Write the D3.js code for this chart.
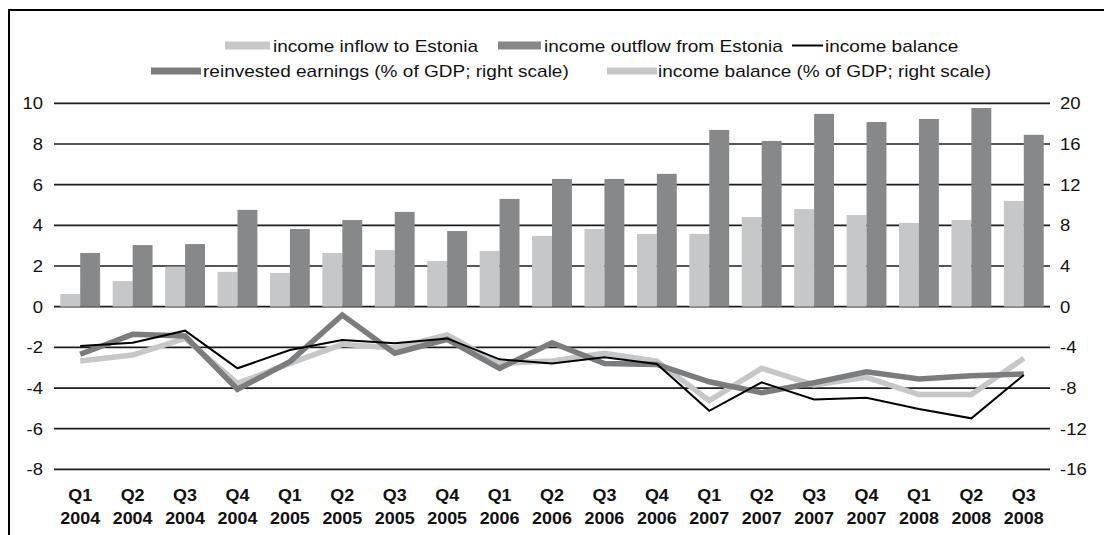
<!DOCTYPE html>
<html>
<head>
<meta charset="utf-8">
<script src="https://cdn.jsdelivr.net/npm/d3@7"></script>
<style>
  html, body { margin: 0; padding: 0; background: #fff; }
  svg { display: block; }
  text { font-family: "Liberation Sans", Arial, Helvetica, sans-serif; fill: #111; }
</style>
</head>
<body>
<svg id="chart" width="1104" height="535"></svg>
<script>
// Quarterly categories
const quarters = ["Q1","Q2","Q3","Q4","Q1","Q2","Q3","Q4","Q1","Q2","Q3","Q4","Q1","Q2","Q3","Q4","Q1","Q2","Q3"];
const years    = ["2004","2004","2004","2004","2005","2005","2005","2005","2006","2006","2006","2006","2007","2007","2007","2007","2008","2008","2008"];

// Left scale (bars and income balance)
const incomeInflow  = [0.62,1.26,1.97,1.71,1.66,2.64,2.79,2.25,2.74,3.48,3.82,3.58,3.58,4.41,4.80,4.51,4.12,4.26,5.20];
const incomeOutflow = [2.64,3.03,3.08,4.76,3.82,4.26,4.66,3.72,5.30,6.28,6.28,6.53,8.69,8.15,9.48,9.08,9.23,9.77,8.45];
const incomeBalance = [-1.93,-1.77,-1.18,-3.03,-2.13,-1.64,-1.80,-1.56,-2.59,-2.79,-2.49,-2.82,-5.12,-3.72,-4.56,-4.48,-5.03,-5.49,-3.36];

// Right scale (% of GDP)
const reinvestedGDP = [-4.68,-2.72,-2.88,-8.12,-5.40,-0.82,-4.58,-3.20,-6.06,-3.54,-5.58,-5.68,-7.38,-8.46,-7.48,-6.40,-7.12,-6.78,-6.62];
const balanceGDP    = [-5.34,-4.76,-3.12,-7.54,-5.58,-3.70,-4.06,-2.78,-5.58,-5.34,-4.58,-5.34,-9.24,-6.06,-7.70,-6.94,-8.64,-8.64,-5.08];

const leftTicks  = [10,8,6,4,2,0,-2,-4,-6,-8];
const rightTicks = [20,16,12,8,4,0,-4,-8,-12,-16];

const legendRow1 = ["income inflow to Estonia","income outflow from Estonia","income balance"];
const legendRow2 = ["reinvested earnings (% of GDP; right scale)","income balance (% of GDP; right scale)"];

const C_LIGHT = "#c6c7c9", C_DARK = "#87888a", C_LINE_DARK = "#7b7c7e";
const SX = 1.12; // horizontal text stretch
const FS = 16.5;
const FS_LEG = 17;

const svg = d3.select("#chart");
const keys = d3.range(quarters.length);

const plot = { left: 54, right: 1050, top: 103.3, bottom: 469.4 };

const x = d3.scaleBand().domain(keys).range([plot.left, plot.right])
  .paddingInner(0.24).paddingOuter(0.12);
const xi = d3.scaleBand().domain(["in","out"]).range([0, x.bandwidth()]);
const yL = d3.scaleLinear().domain([-8, 10]).range([plot.bottom, plot.top]);
const yR = d3.scaleLinear().domain([-16, 20]).range([plot.bottom, plot.top]);
const cx = i => x(i) + x.bandwidth() / 2;

// frame
svg.append("path").attr("d", "M9,535 L9,10 L1104,10")
  .attr("fill", "none").attr("stroke", "#000").attr("stroke-width", 2);

// gridlines
svg.append("g").selectAll("line").data(leftTicks).join("line")
  .attr("x1", plot.left).attr("x2", plot.right)
  .attr("y1", d => yL(d)).attr("y2", d => yL(d))
  .attr("stroke", "#1c1c1c").attr("stroke-width", 1.7);

// bars
const groups = svg.append("g").selectAll("g").data(keys).join("g")
  .attr("transform", i => `translate(${x(i)},0)`);
groups.append("rect")
  .attr("x", xi("in")).attr("width", xi.bandwidth())
  .attr("y", i => yL(incomeInflow[i])).attr("height", i => yL(0) - yL(incomeInflow[i]))
  .attr("fill", C_LIGHT);
groups.append("rect")
  .attr("x", xi("out")).attr("width", xi.bandwidth())
  .attr("y", i => yL(incomeOutflow[i])).attr("height", i => yL(0) - yL(incomeOutflow[i]))
  .attr("fill", C_DARK);

// lines
const lineR = d3.line().x((d, i) => cx(i)).y(d => yR(d));
const lineL = d3.line().x((d, i) => cx(i)).y(d => yL(d));
svg.append("path").datum(balanceGDP).attr("d", lineR)
  .attr("fill", "none").attr("stroke", C_LIGHT).attr("stroke-width", 5.5).attr("stroke-linejoin", "miter");
svg.append("path").datum(reinvestedGDP).attr("d", lineR)
  .attr("fill", "none").attr("stroke", C_LINE_DARK).attr("stroke-width", 5.5).attr("stroke-linejoin", "miter");
svg.append("path").datum(incomeBalance).attr("d", lineL)
  .attr("fill", "none").attr("stroke", "#000").attr("stroke-width", 2).attr("stroke-linejoin", "miter");

// text layer, stretched horizontally
const T = svg.append("g").attr("transform", `scale(${SX},1)`);

// left axis labels
T.append("g").selectAll("text").data(leftTicks).join("text")
  .attr("x", 43 / SX).attr("y", d => yL(d)).attr("dy", "0.36em")
  .attr("text-anchor", "end").attr("font-size", FS).text(d => d);

// right axis labels
T.append("g").selectAll("text").data(rightTicks).join("text")
  .attr("x", 1060 / SX).attr("y", d => yR(d)).attr("dy", "0.36em")
  .attr("text-anchor", "start").attr("font-size", FS).text(d => d);

// category labels
const xl = T.append("g").selectAll("text").data(keys).join("text")
  .attr("text-anchor", "middle").attr("font-size", 16).attr("font-weight", "bold");
xl.append("tspan").attr("x", i => cx(i) / SX).attr("y", 501).text(i => quarters[i]);
xl.append("tspan").attr("x", i => cx(i) / SX).attr("y", 524).text(i => years[i]);

// legend
const leg = svg.append("g");
function swatchRect(x0, w, y0, color) {
  leg.append("rect").attr("x", x0).attr("y", y0 - 4).attr("width", w).attr("height", 8).attr("fill", color);
}
function swatchLine(x0, w, y0, color, sw) {
  leg.append("line").attr("x1", x0).attr("x2", x0 + w).attr("y1", y0).attr("y2", y0)
    .attr("stroke", color).attr("stroke-width", sw);
}
function legText(x0, y0, s) {
  T.append("text").attr("x", x0 / SX).attr("y", y0).attr("dy", "0.36em")
    .attr("font-size", FS_LEG).text(s);
}
const r1 = 45.5, r2 = 71;
swatchRect(225, 45, r1, C_LIGHT);  legText(273, r1, legendRow1[0]);
swatchRect(498, 43, r1, C_DARK);   legText(544, r1, legendRow1[1]);
swatchLine(792, 31, r1, "#000", 2); legText(825, r1, legendRow1[2]);
swatchLine(151, 50, r2, C_LINE_DARK, 7); legText(203, r2, legendRow2[0]);
swatchLine(607, 50, r2, C_LIGHT, 7);     legText(658, r2, legendRow2[1]);
</script>
</body>
</html>
